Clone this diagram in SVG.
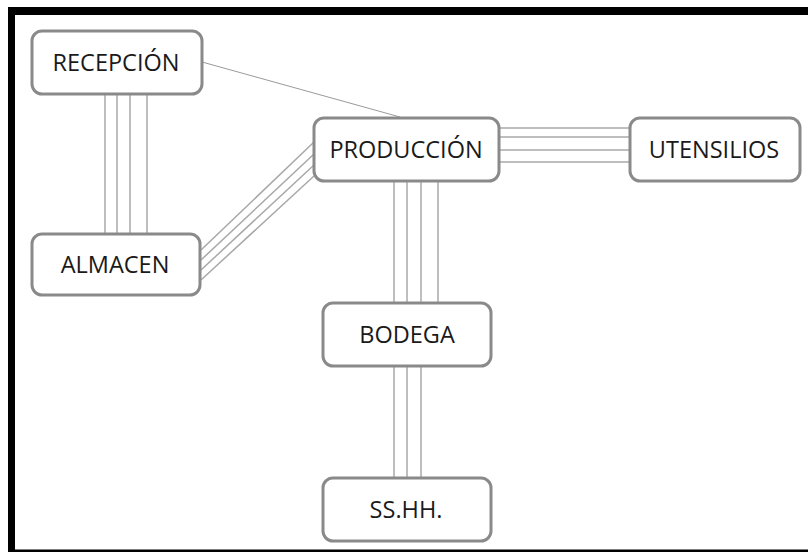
<svg xmlns="http://www.w3.org/2000/svg" width="808" height="552" viewBox="0 0 808 552">
  <defs>
    <style>
      .node rect { fill: #ffffff; stroke: #8a8a8a; stroke-width: 3; }
      .node text { font-family: "Open Sans", "Liberation Sans", sans-serif; font-size: 23.5px; fill: #1a1a1a; text-anchor: middle; }
      .conn line { stroke: #a8a8a8; stroke-width: 1.5; fill: none; }
      .conn line.thin { stroke: #9a9a9a; stroke-width: 1; }
      .frame { fill: #000000; }
    </style>
  </defs>
  <rect x="0" y="0" width="808" height="552" fill="#ffffff"/>
  <g id="frame">
    <rect class="frame" x="8" y="7" width="800" height="8"/>
    <rect class="frame" x="8" y="7" width="7" height="545"/>
    <rect class="frame" x="8" y="549.5" width="800" height="2.5"/>
  </g>
  <g id="connectors" class="conn">
    <line class="thin" x1="202" y1="62" x2="400" y2="117"/>
    <line x1="105" y1="94" x2="105" y2="234"/>
    <line x1="117" y1="94" x2="117" y2="234"/>
    <line x1="130" y1="94" x2="130" y2="234"/>
    <line x1="147" y1="94" x2="147" y2="234"/>
    <line x1="201" y1="250" x2="314" y2="142"/>
    <line x1="201" y1="260" x2="314" y2="154"/>
    <line x1="201" y1="270" x2="314" y2="165"/>
    <line x1="201" y1="280" x2="314" y2="176"/>
    <line x1="499" y1="128" x2="630" y2="128"/>
    <line x1="499" y1="137" x2="630" y2="137"/>
    <line x1="499" y1="150" x2="630" y2="150"/>
    <line x1="499" y1="162" x2="630" y2="162"/>
    <line x1="394" y1="181" x2="394" y2="303"/>
    <line x1="407" y1="181" x2="407" y2="303"/>
    <line x1="421" y1="181" x2="421" y2="303"/>
    <line x1="438" y1="181" x2="438" y2="303"/>
    <line x1="394" y1="366" x2="394" y2="478"/>
    <line x1="407" y1="366" x2="407" y2="478"/>
    <line x1="421" y1="366" x2="421" y2="478"/>
  </g>
  <g id="recepcion" class="node">
    <rect x="32" y="31" width="170" height="63" rx="10"/>
    <text x="116" y="71">RECEPCIÓN</text>
  </g>
  <g id="almacen" class="node">
    <rect x="32" y="234" width="168" height="61" rx="10"/>
    <text x="115" y="273">ALMACEN</text>
  </g>
  <g id="produccion" class="node">
    <rect x="314" y="118" width="185" height="63" rx="10"/>
    <text x="406" y="158">PRODUCCIÓN</text>
  </g>
  <g id="utensilios" class="node">
    <rect x="630" y="118" width="170" height="63" rx="10"/>
    <text x="714" y="158">UTENSILIOS</text>
  </g>
  <g id="bodega" class="node">
    <rect x="323" y="303" width="168" height="63" rx="10"/>
    <text x="407" y="343">BODEGA</text>
  </g>
  <g id="sshh" class="node">
    <rect x="323" y="478" width="168" height="63" rx="10"/>
    <text x="406" y="518">SS.HH.</text>
  </g>
</svg>
